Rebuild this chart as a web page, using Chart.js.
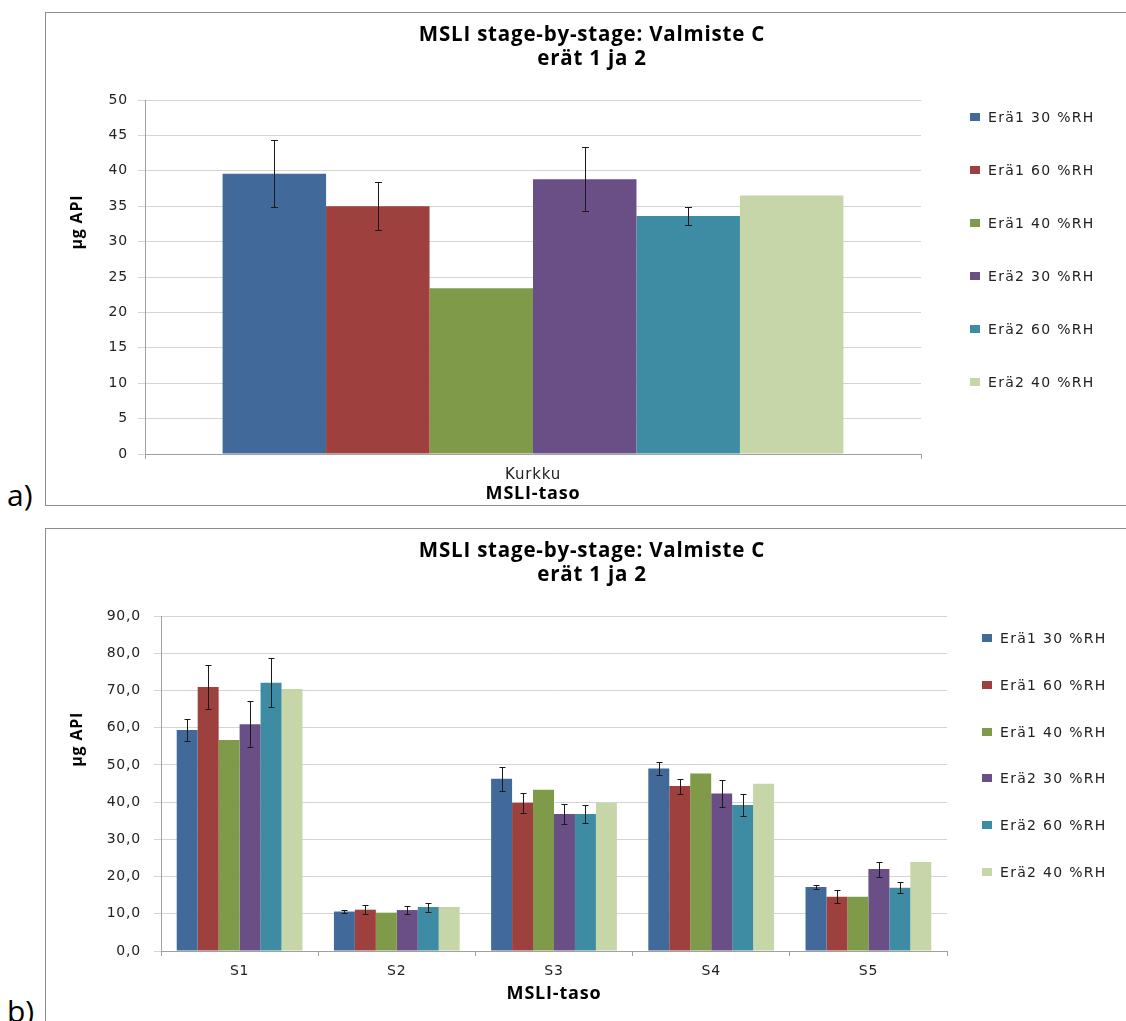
<!DOCTYPE html>
<html>
<head>
<meta charset="utf-8">
<script src="https://cdn.jsdelivr.net/npm/chart.js@4.4.1/dist/chart.umd.min.js"></script>
<style>
  html, body { margin: 0; padding: 0; background: #fff; overflow: hidden; width: 1126px; height: 1021px; }
  .panel { position: absolute; border: 1px solid #8c8c8c; background: #fff; }
  .panel canvas { position: absolute; left: 0; top: 0; }
  .legend { position: absolute; font-family: "DejaVu Sans", sans-serif; font-size: 14px; letter-spacing: 1.3px; color: #222; }
  .legend .row { position: absolute; left: 0; height: 20px; display: flex; align-items: center; white-space: nowrap; }
  .legend .sw { width: 10px; height: 8px; margin-right: 8px; }
  .tag { position: absolute; font-family: "Open Sans", sans-serif; font-size: 30px; line-height: 30px; color: #000; }
</style>
</head>
<body>

<div class="panel" style="left:45px; top:12px; width:1092px; height:492px;">
  <canvas id="chartA" width="1092" height="492"></canvas>
  <div class="legend" id="legendA" style="left:924px; top:0;"></div>
</div>
<div class="tag" style="left:7px; top:480px;">a)</div>

<div class="panel" style="left:45px; top:528px; width:1092px; height:500px;">
  <canvas id="chartB" width="1092" height="500"></canvas>
  <div class="legend" id="legendB" style="left:936px; top:0;"></div>
</div>
<div class="tag" style="left:7px; top:996px;">b)</div>

<script>
// series shared by both charts
var seriesLabels = ['Erä1 30 %RH', 'Erä1 60 %RH', 'Erä1 40 %RH', 'Erä2 30 %RH', 'Erä2 60 %RH', 'Erä2 40 %RH'];
var seriesColors = ['#41699a', '#9d403e', '#7f9a48', '#6a4f87', '#3d8ca4', '#c6d6a9'];

// chart a) - throat only
var categoriesA = ['Kurkku'];
var valuesA = [[39.6], [35.0], [23.4], [38.8], [33.6], [36.5]];
var errorsA = [[4.7], [3.4], [null], [4.5], [1.3], [null]];

// chart b) - stages S1..S5
var categoriesB = ['S1', 'S2', 'S3', 'S4', 'S5'];
var valuesB = [
    [59.4, 10.6, 46.3, 49.0, 17.2],
    [70.9, 11.1, 39.8, 44.3, 14.6],
    [56.7, 10.3, 43.3, 47.7, 14.6],
    [60.9, 11.0, 36.8, 42.3, 22.0],
    [72.1, 11.8, 36.8, 39.2, 17.0],
    [70.4, 11.8, 39.8, 44.9, 23.9]
];
var errorsB = [
    [2.9, 0.5, 3.2, 1.8, 0.6],
    [6.0, 1.2, 2.6, 2.0, 1.8],
    [null, null, null, null, null],
    [6.2, 1.0, 2.7, 3.6, 2.0],
    [6.6, 1.2, 2.3, 2.9, 1.5],
    [null, null, null, null, null]
];

var titleLines = ['MSLI stage-by-stage: Valmiste C', 'erät 1 ja 2'];
var xTitle = 'MSLI-taso';
var yTitle = 'µg API';

// slightly wider text, the original is a bit stretched
var textSpacing = {
    id: 'textSpacing',
    beforeDraw: function(chart) { chart.ctx.letterSpacing = '0.8px'; }
};

// draws the +/- error bars on top of the bars
var errorBars = {
    id: 'errorBars',
    afterDatasetsDraw: function(chart, args, opts) {
        var ctx = chart.ctx, y = chart.scales.y;
        ctx.save();
        ctx.strokeStyle = '#1a1a1a';
        ctx.lineWidth = 1;
        chart.data.datasets.forEach(function(ds, di) {
            if (!ds.errors) return;
            var meta = chart.getDatasetMeta(di);
            meta.data.forEach(function(bar, i) {
                var e = ds.errors[i];
                if (!e) return;
                var v = ds.data[i];
                var x = Math.round(bar.x) + 0.5;
                var yt = Math.round(y.getPixelForValue(v + e)) + 0.5;
                var yb = Math.round(y.getPixelForValue(v - e)) + 0.5;
                var c = opts.cap / 2;
                ctx.beginPath();
                ctx.moveTo(x, yt); ctx.lineTo(x, yb);
                ctx.moveTo(x - c, yt); ctx.lineTo(x + c, yt);
                ctx.moveTo(x - c, yb); ctx.lineTo(x + c, yb);
                ctx.stroke();
            });
        });
        ctx.restore();
    }
};

// rotated y title, placed a bit above the middle like the original
var yAxisTitle = {
    id: 'yAxisTitle',
    afterDraw: function(chart, args, opts) {
        var ctx = chart.ctx, a = chart.chartArea;
        ctx.save();
        ctx.translate(opts.x, a.top + (a.bottom - a.top) * opts.pos);
        ctx.rotate(-Math.PI / 2);
        ctx.font = 'bold 16px "Open Sans", sans-serif';
        ctx.fillStyle = '#000';
        ctx.textAlign = 'center';
        ctx.textBaseline = 'middle';
        ctx.fillText(opts.text, 0, 0);
        ctx.restore();
    }
};

function buildDatasets(values, errors) {
    var sets = [];
    for (var i = 0; i < seriesLabels.length; i++) {
        sets.push({
            label: seriesLabels[i],
            data: values[i],
            errors: errors[i],
            backgroundColor: seriesColors[i],
            borderWidth: 0,
            categoryPercentage: 0.8,
            barPercentage: 1.0
        });
    }
    return sets;
}

function buildLegend(id, firstY, step) {
    var el = document.getElementById(id);
    for (var i = 0; i < seriesLabels.length; i++) {
        var row = document.createElement('div');
        row.className = 'row';
        row.style.top = (firstY + i * step - 10) + 'px';
        row.innerHTML = '<span class="sw" style="background:' + seriesColors[i] + '"></span>' + seriesLabels[i];
        el.appendChild(row);
    }
}

function drawChart(canvasId, labels, values, errors, cfg) {
    var ctx = document.getElementById(canvasId);
    return new Chart(ctx, {
        type: 'bar',
        data: { labels: labels, datasets: buildDatasets(values, errors) },
        plugins: [textSpacing, errorBars, yAxisTitle],
        options: {
            responsive: false,
            animation: false,
            plugins: {
                legend: { display: false },
                tooltip: { enabled: false },
                title: {
                    display: true,
                    text: titleLines,
                    color: '#000',
                    font: { family: '"Open Sans", sans-serif', size: 20.5, weight: 'bold', lineHeight: 24 / 20.5 },
                    padding: { top: 10, bottom: 29 }
                },
                errorBars: { cap: cfg.cap },
                yAxisTitle: { text: yTitle, x: 31, pos: cfg.yTitlePos }
            },
            scales: {
                x: {
                    afterFit: function(s) { s.height = cfg.xHeight; },
                    grid: { drawOnChartArea: false, drawTicks: true, tickLength: 5, color: '#a0a0a0' },
                    border: { color: '#a0a0a0' },
                    ticks: { color: '#222', padding: 7, font: { family: 'DejaVu Sans, sans-serif', size: cfg.xFont } },
                    title: {
                        display: true, text: xTitle, color: '#000',
                        font: { family: '"Open Sans", sans-serif', size: 18, weight: 'bold' },
                        padding: { top: 0, bottom: cfg.xTitlePad }
                    }
                },
                y: {
                    min: 0, max: cfg.max,
                    afterFit: function(s) { s.width = cfg.yWidth; },
                    grid: { color: '#d4d4d4', tickLength: 7 },
                    border: { color: '#a0a0a0' },
                    ticks: {
                        stepSize: cfg.step, color: '#222', padding: cfg.yPad,
                        font: { family: 'DejaVu Sans, sans-serif', size: 14 },
                        callback: cfg.fmt
                    }
                },
                // empty axis that only reserves the room for the legend
                legendSpace: {
                    type: 'linear', position: 'right',
                    afterFit: function(s) { s.width = cfg.padRight; },
                    grid: { display: false }, border: { display: false },
                    ticks: { display: false }
                }
            }
        }
    });
}

drawChart('chartA', categoriesA, valuesA, errorsA, {
    padRight: 217, xHeight: 51, xTitlePad: 0, yWidth: 99, yPad: 10, max: 50, step: 5,
    cap: 7, xFont: 15, yTitlePos: 0.345,
    fmt: function(v) { return v; }
});
buildLegend('legendA', 104, 53);

drawChart('chartB', categoriesB, valuesB, errorsB, {
    padRight: 191, xHeight: 78, xTitlePad: 24, yWidth: 115, yPad: 13, max: 90, step: 10,
    cap: 6, xFont: 14, yTitlePos: 0.368,
    fmt: function(v) { return v.toFixed(1).replace('.', ','); }
});
buildLegend('legendB', 109, 46.8);
</script>
</body>
</html>
